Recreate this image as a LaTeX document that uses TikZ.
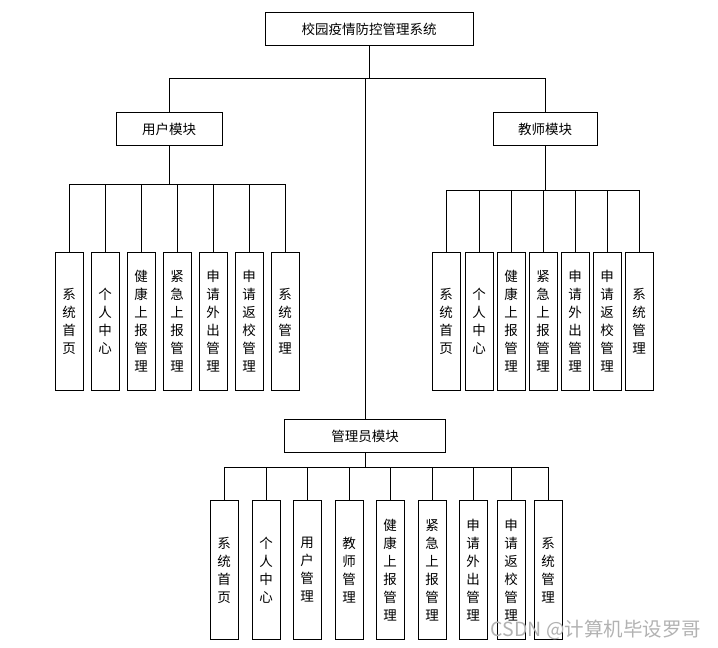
\documentclass[tikz,border=0pt]{standalone}
\usepackage{fontspec}
\setmainfont{Noto Sans CJK SC}
\usetikzlibrary{positioning}

\begin{document}
\begin{tikzpicture}[x=1pt,y=-1pt,line width=0.9pt,
    topbox/.style={draw,fill=white,minimum height=33pt,inner sep=0pt,font=\fontsize{13.5}{18}\selectfont},
    leaf/.style={draw,fill=white,minimum width=28pt,minimum height=138pt,inner sep=0pt,align=center,font=\fontsize{13.5}{18}\selectfont}]
    \useasboundingbox (0,0) rectangle (718,648);

    % system and modules
    \node[topbox,minimum width=208pt] (sys) at (369,29) {校园疫情防控管理系统};
    \node[topbox,minimum width=106pt] (um) at (169,129) {用户模块};
    \node[topbox,minimum width=104pt] (tm) at (545,129) {教师模块};
    \node[topbox,minimum width=161pt] (am) at (365,436) {管理员模块};

    \coordinate (sb) at (369,78);
    \draw (sys) -- (sb);
    \draw (sb) -| (um);
    \draw (sb) -| (tm);
    \draw (sb) -| (am);

    % user module
    \node[leaf] (u1) at (69,321) {系\\统\\首\\页};
    \node[leaf] (u2) at (105,321) {个\\人\\中\\心};
    \node[leaf] (u3) at (141,321) {健\\康\\上\\报\\管\\理};
    \node[leaf] (u4) at (177,321) {紧\\急\\上\\报\\管\\理};
    \node[leaf] (u5) at (213,321) {申\\请\\外\\出\\管\\理};
    \node[leaf] (u6) at (249,321) {申\\请\\返\\校\\管\\理};
    \node[leaf] (u7) at (285,321) {系\\统\\管\\理};

    \coordinate (ub) at (169,184);
    \draw (um) -- (ub);
    \draw (ub) -| (u1);
    \draw (ub) -| (u2);
    \draw (ub) -| (u3);
    \draw (ub) -| (u4);
    \draw (ub) -| (u5);
    \draw (ub) -| (u6);
    \draw (ub) -| (u7);

    % teacher module
    \node[leaf] (t1) at (446,321) {系\\统\\首\\页};
    \node[leaf] (t2) at (479,321) {个\\人\\中\\心};
    \node[leaf] (t3) at (511,321) {健\\康\\上\\报\\管\\理};
    \node[leaf] (t4) at (543,321) {紧\\急\\上\\报\\管\\理};
    \node[leaf] (t5) at (575,321) {申\\请\\外\\出\\管\\理};
    \node[leaf] (t6) at (607,321) {申\\请\\返\\校\\管\\理};
    \node[leaf] (t7) at (639,321) {系\\统\\管\\理};

    \coordinate (tb) at (545,190);
    \draw (tm) -- (tb);
    \draw (tb) -| (t1);
    \draw (tb) -| (t2);
    \draw (tb) -| (t3);
    \draw (tb) -| (t4);
    \draw (tb) -| (t5);
    \draw (tb) -| (t6);
    \draw (tb) -| (t7);

    % admin module
    \node[leaf,minimum height=139pt] (a1) at (224,570) {系\\统\\首\\页};
    \node[leaf,minimum height=139pt] (a2) at (266,570) {个\\人\\中\\心};
    \node[leaf,minimum height=139pt] (a3) at (307,570) {用\\户\\管\\理};
    \node[leaf,minimum height=139pt] (a4) at (349,570) {教\\师\\管\\理};
    \node[leaf,minimum height=139pt] (a5) at (390,570) {健\\康\\上\\报\\管\\理};
    \node[leaf,minimum height=139pt] (a6) at (432,570) {紧\\急\\上\\报\\管\\理};
    \node[leaf,minimum height=139pt] (a7) at (473,570) {申\\请\\外\\出\\管\\理};
    \node[leaf,minimum height=139pt] (a8) at (511,570) {申\\请\\返\\校\\管\\理};
    \node[leaf,minimum height=139pt] (a9) at (548,570) {系\\统\\管\\理};

    \coordinate (ab) at (365,467);
    \draw (am) -- (ab);
    \draw (ab) -| (a1);
    \draw (ab) -| (a2);
    \draw (ab) -| (a3);
    \draw (ab) -| (a4);
    \draw (ab) -| (a5);
    \draw (ab) -| (a6);
    \draw (ab) -| (a7);
    \draw (ab) -| (a8);
    \draw (ab) -| (a9);

    \node[text=gray!60,font=\fontsize{19.5}{20}\selectfont] (mark) at (596,630) {CSDN @计算机毕设罗哥};
\end{tikzpicture}
\end{document}
